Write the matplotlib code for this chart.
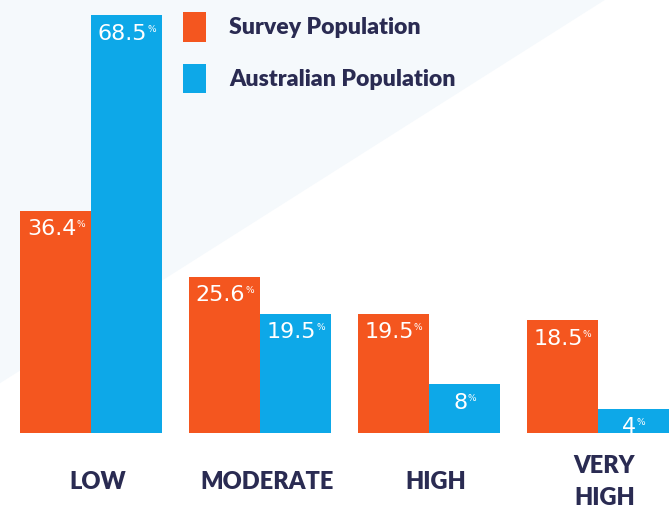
import numpy as np
import matplotlib.pyplot as plt
from matplotlib.patches import Polygon

## chart data
categories = ["LOW", "MODERATE", "HIGH", "VERY\nHIGH"]
survey = [36.4, 25.6, 19.5, 18.5]
australian = [68.5, 19.5, 8, 4]
series_names = ["Survey Population", "Australian Population"]

ORANGE = "#F4561F"
BLUE = "#0DA8E8"
NAVY = "#2A2B52"

plt.rcParams["font.family"] = ["Lato", "DejaVu Sans"]

fig = plt.figure(figsize=(6.72, 5.11), dpi=100)
fig.patch.set_facecolor("white")

# faint tint in the upper left of the background
fig.patches.append(Polygon([(0, 1), (0.9, 1), (0, 0.25)], closed=True,
                           transform=fig.transFigure, facecolor="#F5F9FC",
                           edgecolor="none", zorder=-5))

ax = fig.add_axes([0.0, 78 / 511, 1.0, 433 / 511])
ax.set_facecolor("none")

x = np.arange(len(categories))
w = 0.42
bars_s = ax.bar(x - w / 2, survey, w, color=ORANGE, label=series_names[0])
bars_a = ax.bar(x + w / 2, australian, w, color=BLUE, label=series_names[1])

ax.set_xlim(-0.54, 3.44)
ax.set_ylim(0, 71.0)


def fmt(v):
    return "{:g}".format(v)


## value labels: number + tiny superscript percent
for bars, vals in ((bars_s, survey), (bars_a, australian)):
    for b, v in zip(bars, vals):
        t = ax.annotate(fmt(v), xy=(b.get_x() + b.get_width() / 2, v),
                        xytext=(-3, -6), textcoords="offset points",
                        ha="center", va="top", color="white", fontsize=16,
                        family="DejaVu Sans")
        ax.annotate("%", xy=(1.0, 0.95), xycoords=t, ha="left", va="top",
                    color="white", fontsize=6.5, family="DejaVu Sans")

## category labels
ax.set_xticks(x + 0.04)
ax.set_xticklabels(categories, fontsize=17, fontweight="heavy", color=NAVY,
                   linespacing=1.55)
for lbl in ax.get_xticklabels():
    lbl.set_verticalalignment("center")
ax.tick_params(axis="x", length=0, pad=35)
ax.set_yticks([])
for s in ax.spines.values():
    s.set_visible(False)

leg = ax.legend(loc="upper left", bbox_to_anchor=(183 / 672, 1 - 12 / 511),
                bbox_transform=fig.transFigure, frameon=False, fontsize=16.6,
                handlelength=1.0, handleheight=1.6, handletextpad=1.0,
                labelspacing=0.95, borderpad=0, borderaxespad=0)
for txt in leg.get_texts():
    txt.set_color(NAVY)
    txt.set_fontweight("heavy")

fig.savefig("out.png", dpi=100)
